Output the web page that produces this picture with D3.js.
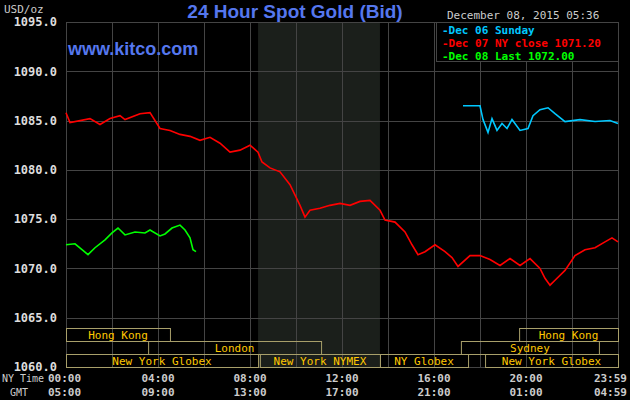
<!DOCTYPE html><html><head><meta charset="utf-8">
<script src="https://cdn.jsdelivr.net/npm/d3@7"></script>
<style>body{margin:0;background:#000}svg{display:block}</style></head><body>
<svg id="c" width="630" height="400"></svg>
<script>
const yTicks=[1060,1065,1070,1075,1080,1085,1090,1095];
const nyLabels=["00:00","04:00","08:00","12:00","16:00","20:00","23:59"];
const gmtLabels=["05:00","09:00","13:00","17:00","21:00","01:00","04:59"];
const labelHours=[0,4,8,12,16,20,24];
const legendItems=["Dec 06 Sunday","Dec 07 NY close 1071.20","Dec 08 Last 1072.00"];
const legendColors=["#00c8ff","#ff0000","#00ff00"];
const redX=[66,70,90,100,110,120,125,140,150,160,170,180,190,200,210,220,230,240,250,258,262,270,280,290,300,305,310,320,330,340,350,360,370,380,385,395,405,412,418,425,435,445,452,458,470,480,490,500,510,520,530,540,545,550,555,565,575,585,595,605,612,618];
const redV=[1085.8,1084.8,1085.2,1084.6,1085.2,1085.5,1085.1,1085.7,1085.8,1084.2,1084.0,1083.6,1083.4,1083.0,1083.3,1082.7,1081.8,1082.0,1082.5,1081.8,1080.8,1080.2,1079.8,1078.5,1076.4,1075.2,1075.9,1076.1,1076.4,1076.6,1076.4,1076.8,1076.9,1075.9,1074.9,1074.7,1073.7,1072.4,1071.4,1071.7,1072.4,1071.7,1071.1,1070.2,1071.3,1071.3,1070.9,1070.3,1071.0,1070.3,1071.0,1070.0,1069.0,1068.3,1068.8,1069.8,1071.3,1071.9,1072.1,1072.7,1073.1,1072.7];
const cyanX=[463,480,483,488,492,497,502,507,512,520,528,533,540,548,555,565,580,595,610,618];
const cyanV=[1086.5,1086.5,1085.1,1083.8,1085.2,1084.0,1084.7,1084.2,1085.1,1084.0,1084.2,1085.5,1086.1,1086.3,1085.7,1084.9,1085.1,1084.9,1085.0,1084.7];
const greenX=[66,75,82,88,95,105,112,118,125,135,145,150,160,165,172,180,185,190,193,196];
const greenV=[1072.4,1072.5,1071.9,1071.4,1072.1,1072.9,1073.6,1074.1,1073.4,1073.7,1073.6,1073.9,1073.3,1073.5,1074.1,1074.4,1073.9,1073.1,1071.9,1071.7];
const toH=xs=>xs.map(x=>(x-66)/23);
const sessions=[["Hong Kong",0,4.52,0],["London",3.57,11.09,1],["New York Globex",0,8.35,2],["New York NYMEX",8.43,13.65,2],["NY Globex",13.65,17.48,2],["Hong Kong",19.7,24,0],["Sydney",17.17,23.17,1],["New York Globex",18.22,24,2]];

const svg=d3.select("#c");
const x=d3.scaleLinear().domain([0,24]).range([66,618]);
const y=d3.scaleLinear().domain([1060,1095]).range([367,22]);
const mono="'DejaVu Sans Mono',monospace";
svg.append("rect").attr("x",x(8.35)).attr("y",22).attr("width",x(13.65)-x(8.35)).attr("height",345).attr("fill","#1b1f1b");
const grid=svg.append("g").attr("stroke","#444").attr("stroke-width",1);
d3.range(0,25,2).forEach(h=>grid.append("line").attr("x1",Math.round(x(h))+.5).attr("x2",Math.round(x(h))+.5).attr("y1",22).attr("y2",367));
yTicks.forEach(v=>grid.append("line").attr("x1",66).attr("x2",618).attr("y1",Math.round(y(v))+.5).attr("y2",Math.round(y(v))+.5));
svg.append("g").attr("transform","translate(60,0)").call(d3.axisLeft(y).tickValues(yTicks).tickFormat(d3.format(".1f")).tickSize(0))
 .call(g=>{g.select(".domain").remove();g.selectAll("text").attr("fill","#ddd").attr("font-family",mono).attr("font-weight","bold").attr("font-size",12);});
svg.append("text").attr("x",4).attr("y",13).text("USD/oz").attr("fill","#ccc").attr("font-family",mono).attr("font-size",11);
const rowY=[328,341,354];
sessions.forEach(s=>{
 svg.append("rect").attr("x",x(s[1])+.5).attr("y",rowY[s[3]]+.5).attr("width",x(s[2])-x(s[1])).attr("height",13).attr("fill","none").attr("stroke","#a89f6a");
 svg.append("text").attr("x",(x(s[1])+x(s[2]))/2).attr("y",rowY[s[3]]+11).attr("text-anchor","middle").text(s[0]).attr("fill","#ffc800").attr("font-family",mono).attr("font-size",11);
});
const line=d3.line().x(d=>x(d[0])).y(d=>y(d[1]));
[[redX,redV,"#ff0000"],[cyanX,cyanV,"#00c8ff"],[greenX,greenV,"#00ff00"]].forEach(([xs,vs,c])=>{
 const hs=toH(xs);svg.append("path").datum(hs.map((h,i)=>[h,vs[i]])).attr("d",line).attr("fill","none").attr("stroke",c).attr("stroke-width",1.6);
});
labelHours.forEach((h,i)=>{
 const a=i==0?"start":i==6?"end":"middle";const xx=i==0?48:i==6?627:x(h);
 svg.append("text").attr("x",xx).attr("y",382).attr("text-anchor",a).text(nyLabels[i]).attr("fill","#ccc").attr("font-family",mono).attr("font-weight","bold").attr("font-size",11);
 svg.append("text").attr("x",xx).attr("y",396).attr("text-anchor",a).text(gmtLabels[i]).attr("fill","#ccc").attr("font-family",mono).attr("font-weight","bold").attr("font-size",11);
});
svg.append("text").attr("x",2).attr("y",382).text("NY Time").attr("fill","#ccc").attr("font-family",mono).attr("font-size",10);
svg.append("text").attr("x",10).attr("y",396).text("GMT").attr("fill","#ccc").attr("font-family",mono).attr("font-size",10);
svg.append("text").attr("x",295).attr("y",18).attr("text-anchor","middle").text("24 Hour Spot Gold (Bid)").attr("fill","#5577ee").attr("font-family","Liberation Sans,Arial").attr("font-size",19).attr("font-weight","bold");
svg.append("text").attr("x",68).attr("y",55).text("www.kitco.com").attr("fill","#5577ee").attr("font-family","Liberation Sans,Arial").attr("font-size",18).attr("font-weight","bold");
svg.append("text").attr("x",447).attr("y",19).text("December 08, 2015 05:36").attr("fill","#ccc").attr("font-family",mono).attr("font-size",11);
svg.append("rect").attr("x",436.5).attr("y",22.5).attr("width",182).attr("height",39).attr("fill","#000").attr("stroke","#444");
legendItems.forEach((t,i)=>svg.append("text").attr("x",442).attr("y",34+i*13).text("-"+t).attr("fill",legendColors[i]).attr("font-family",mono).attr("font-weight","bold").attr("font-size",11));
</script></body></html>
